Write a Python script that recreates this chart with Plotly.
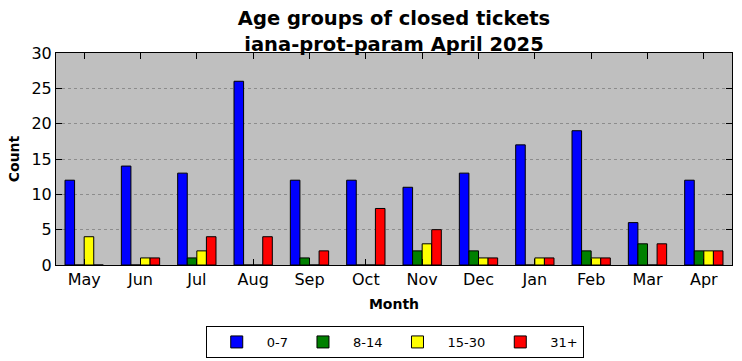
import plotly.graph_objects as go

months = ["May", "Jun", "Jul", "Aug", "Sep", "Oct", "Nov", "Dec", "Jan", "Feb", "Mar", "Apr"]
s_0_7 = [12, 14, 13, 26, 12, 12, 11, 13, 17, 19, 6, 12]
s_8_14 = [0, 0, 1, 0, 1, 0, 2, 2, 0, 2, 3, 2]
s_15_30 = [4, 1, 2, 0, 0, 0, 3, 1, 1, 1, 0, 2]
s_31p = [0, 1, 4, 4, 2, 8, 5, 1, 1, 1, 3, 2]
series_names = ["0-7", "8-14", "15-30", "31+"]
series_colors = ["#0000ff", "#008000", "#ffff00", "#ff0000"]

fig = go.Figure()
for name, vals, col in zip(series_names, [s_0_7, s_8_14, s_15_30, s_31p], series_colors):
    fig.add_trace(go.Bar(x=months, y=vals, name=name,
                         marker=dict(color=col, line=dict(color="black", width=1))))

font = "DejaVu Sans"
fig.update_layout(
    width=742, height=361,
    barmode="group", bargap=0.32, bargroupgap=0,
    paper_bgcolor="white", plot_bgcolor="#bfbfbf",
    font=dict(family=font, size=16, color="black"),
    margin=dict(l=56, r=10, t=53, b=96, autoexpand=False),
    title=dict(text="<b>Age groups of closed tickets<br>iana-prot-param April 2025</b>",
               x=0.5, xanchor="center", xref="paper", yref="container",
               y=0.93, yanchor="top",
               font=dict(family=font, size=19.5)),
    xaxis=dict(title=dict(text="<b>Month</b>", font=dict(size=14), standoff=10),
               showline=True, linecolor="black", linewidth=1, mirror="allticks",
               ticks="inside", ticklen=6, tickcolor="black", showgrid=False,
               range=[-0.5, 11.5]),
    yaxis=dict(title=dict(text="<b>Count</b>", font=dict(size=14), standoff=8),
               range=[0, 30], dtick=5, showline=True, linecolor="black", linewidth=1,
               mirror="allticks", ticks="inside", ticklen=6, tickcolor="black",
               showgrid=True, gridcolor="#8c8c8c", griddash="dot", gridwidth=1,
               zeroline=False),
    legend=dict(orientation="h", x=0.532, xanchor="center", xref="container",
                y=0.097, yanchor="top", yref="container",
                bordercolor="black", borderwidth=1, bgcolor="white",
                font=dict(size=13), traceorder="normal", itemwidth=50),
    showlegend=True,
)

fig.write_html("out.html", config={"displayModeBar": False},
               post_script="document.body.style.margin='0';")
